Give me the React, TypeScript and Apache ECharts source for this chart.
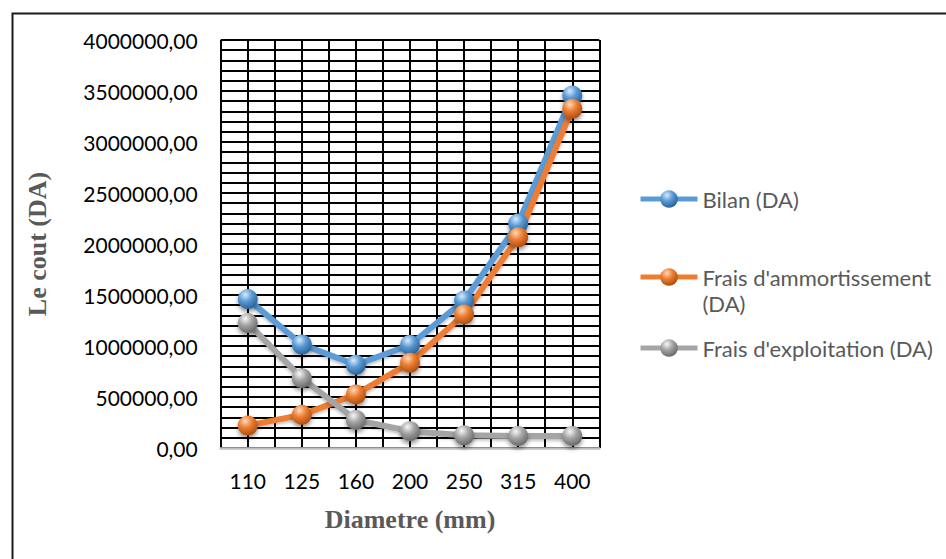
import React, { useEffect, useRef } from "react";
import * as echarts from "echarts";

const categories = ["110", "125", "160", "200", "250", "315", "400"];
const bilan = [1460000, 1015000, 815000, 1010000, 1445000, 2200000, 3455000];
const amortissement = [220000, 325000, 525000, 835000, 1310000, 2065000, 3325000];
const exploitation = [1225000, 685000, 275000, 165000, 125000, 118000, 118000];
const seriesNames = ["Bilan (DA)", "Frais d'ammortissement (DA)", "Frais d'exploitation (DA)"];
const xTitle = "Diametre (mm)";
const yTitle = "Le cout (DA)";

function sphere(light: string, base: string, dark: string) {
  return new echarts.graphic.RadialGradient(0.38, 0.28, 0.75, [
    { offset: 0, color: light },
    { offset: 0.45, color: base },
    { offset: 1, color: dark },
  ]);
}

export default function App() {
  const ref = useRef<HTMLDivElement>(null);
  useEffect(() => {
    if (!ref.current) return;
    const chart = echarts.init(ref.current, undefined, { renderer: "svg" });
    const palette = [
      { line: "#5B9BD5", sph: sphere("#d6ebfc", "#5B9BD5", "#275f96") },
      { line: "#ED7D31", sph: sphere("#fdd9b8", "#ED7D31", "#a84c0e") },
      { line: "#A5A5A5", sph: sphere("#f7f7f7", "#A5A5A5", "#666666") },
    ];
    const datas = [bilan, amortissement, exploitation];
    const legendText = {
      fontFamily: "Lato",
      fontSize: 22,
      color: "#595959",
    };
    const mkLegend = (name: string, top: number, extra: any = {}) => ({
      data: [name],
      orient: "vertical",
      left: 638,
      top,
      padding: 0,
      itemWidth: 57,
      itemHeight: 22,
      selectedMode: false,
      lineStyle: { width: 5 },
      textStyle: { ...legendText, ...extra },
    });
    chart.setOption({
      animation: false,
      backgroundColor: "#ffffff",
      grid: { left: 220.7, right: 346.7, top: 40, bottom: 111 },
      legend: [
        mkLegend(seriesNames[0], 188),
        {
          ...mkLegend(seriesNames[1], 238, { lineHeight: 26 }),
          formatter: () => "\nFrais d'ammortissement\n(DA)",
        },
        mkLegend(seriesNames[2], 337),
      ],
      xAxis: [
        {
          type: "category",
          data: categories,
          boundaryGap: true,
          axisLine: { show: true, lineStyle: { color: "#bfbfbf", width: 2.5 } },
          axisTick: { show: false },
          axisLabel: {
            fontFamily: "Lato",
            fontSize: 21,
            color: "#000000",
            margin: 22,
          },
          splitLine: { show: false },
          name: xTitle,
          nameLocation: "middle",
          nameGap: 58,
          nameTextStyle: {
            fontFamily: "Liberation Serif",
            fontWeight: "bold",
            fontSize: 26,
            color: "#595959",
          },
        },
        {
          type: "value",
          min: 0,
          max: 14,
          interval: 1,
          position: "bottom",
          axisLine: { show: false },
          axisTick: { show: false },
          axisLabel: { show: false },
          splitLine: { show: true, lineStyle: { color: "#000000", width: 2 } },
        },
      ],
      yAxis: {
        type: "value",
        min: 0,
        max: 4000000,
        interval: 500000,
        axisLine: { show: false },
        axisTick: { show: false },
        axisLabel: {
          fontFamily: "Lato",
          fontSize: 21,
          color: "#000000",
          margin: 23,
          formatter: (v: number) => v.toFixed(2).replace(".", ","),
        },
        splitLine: { show: true, lineStyle: { color: "#000000", width: 2 } },
        minorTick: { show: false, splitNumber: 5 },
        minorSplitLine: { show: true, lineStyle: { color: "#000000", width: 2 } },
        name: yTitle,
        nameLocation: "middle",
        nameRotate: 90,
        nameGap: 170,
        nameTextStyle: {
          fontFamily: "Liberation Serif",
          fontWeight: "bold",
          fontSize: 26,
          color: "#595959",
        },
      },
      series: datas.map((d, i) => ({
        name: seriesNames[i],
        type: "line",
        xAxisIndex: 0,
        data: d,
        symbol: "circle",
        symbolSize: 20,
        lineStyle: {
          color: palette[i].line,
          width: 6,
          shadowColor: "rgba(0,0,0,0.25)",
          shadowBlur: 3,
          shadowOffsetY: 2,
        },
        itemStyle: {
          color: palette[i].sph,
          borderWidth: 0,
          shadowColor: "rgba(0,0,0,0.4)",
          shadowBlur: 4,
          shadowOffsetY: 3,
        },
        emphasis: { disabled: true },
      })),
      graphic: [
        {
          type: "rect",
          left: 10,
          top: 11,
          shape: { x: 0, y: 0, width: 1000, height: 1000 },
          style: { fill: "none", stroke: "#1a1a1a", lineWidth: 2 },
          silent: true,
        },
      ],
    });
    return () => chart.dispose();
  }, []);
  return (
    <div
      ref={ref}
      style={{ position: "absolute", left: 0, top: 0, width: 946, height: 559, background: "#fff" }}
    />
  );
}
